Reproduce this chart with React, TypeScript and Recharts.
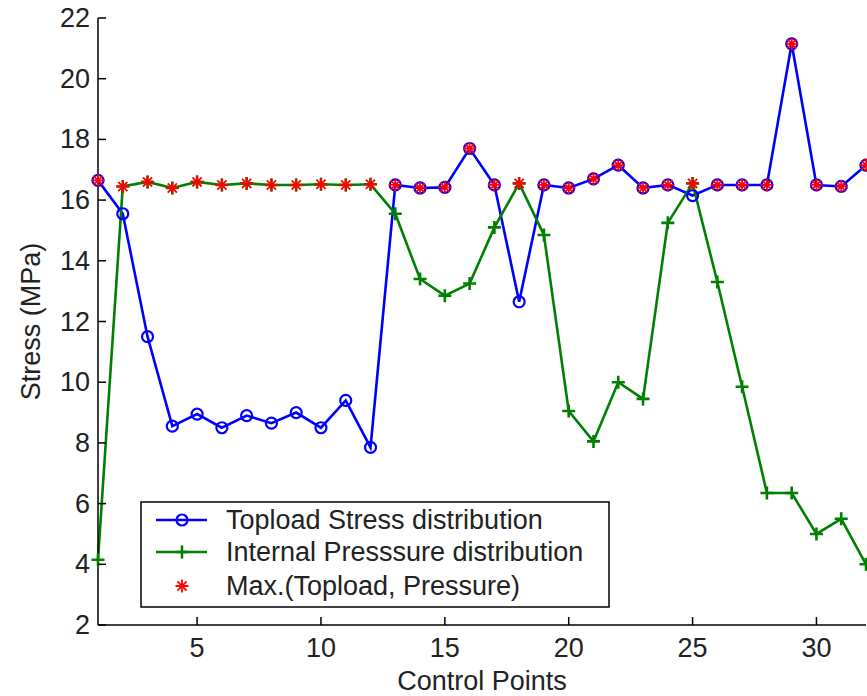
import React from 'react';
import { LineChart, Line, XAxis, YAxis } from 'recharts';

const controlPoints = [1, 2, 3, 4, 5, 6, 7, 8, 9, 10, 11, 12, 13, 14, 15, 16, 17, 18, 19, 20, 21, 22, 23, 24, 25, 26, 27, 28, 29, 30, 31, 32];
const toploadStress = [16.65, 15.55, 11.5, 8.55, 8.95, 8.5, 8.9, 8.65, 9.0, 8.5, 9.4, 7.85, 16.5, 16.4, 16.42, 17.7, 16.5, 12.65, 16.5, 16.4, 16.7, 17.15, 16.4, 16.5, 16.15, 16.5, 16.5, 16.5, 21.15, 16.5, 16.45, 17.15];
const internalPressure = [4.15, 16.45, 16.6, 16.4, 16.6, 16.5, 16.55, 16.5, 16.5, 16.52, 16.5, 16.52, 15.55, 13.4, 12.85, 13.25, 15.1, 16.55, 14.85, 9.05, 8.05, 10.0, 9.45, 15.25, 16.55, 13.3, 9.85, 6.35, 6.35, 5.0, 5.5, 4.0];
const maxStress = [16.65, 16.45, 16.6, 16.4, 16.6, 16.5, 16.55, 16.5, 16.5, 16.52, 16.5, 16.52, 16.5, 16.4, 16.42, 17.7, 16.5, 16.55, 16.5, 16.4, 16.7, 17.15, 16.4, 16.5, 16.55, 16.5, 16.5, 16.5, 21.15, 16.5, 16.45, 17.15];
const xTicks = [5, 10, 15, 20, 25, 30];
const yTicks = [2, 4, 6, 8, 10, 12, 14, 16, 18, 20, 22];
const seriesNames = ['Topload Stress distribution', 'Internal Presssure distribution', 'Max.(Topload, Pressure)'];

const data = controlPoints.map((x, i) => ({
  x,
  topload: toploadStress[i],
  pressure: internalPressure[i],
  max: maxStress[i],
}));

const W = 867;
const H = 696;
const PL = 98;
const PR = 866;
const PT = 18;
const PB = 625;
const FONT = '"Liberation Sans", Arial, sans-serif';
const TXT = '#222';
const FS = 27;
const BLUE = '#0000ff';
const GREEN = '#008000';
const RED = '#ff0000';

const CircleMark = ({ cx, cy }: any) => (
  <circle cx={cx} cy={cy} r={5.5} fill="none" stroke={BLUE} strokeWidth={2.2} />
);
const PlusMark = ({ cx, cy }: any) => (
  <path d={`M${cx - 6.5},${cy}h13M${cx},${cy - 6.5}v13`} stroke={GREEN} strokeWidth={2.6} fill="none" />
);
const StarMark = ({ cx, cy }: any) => (
  <path
    d={`M${cx - 6.5},${cy}h13M${cx},${cy - 6.5}v13M${cx - 4.6},${cy - 4.6}l9.2,9.2M${cx - 4.6},${cy + 4.6}l9.2,-9.2`}
    stroke={RED}
    strokeWidth={1.8}
    fill="none"
  />
);

const circleDot = (p: any) => <CircleMark key={`c${p.index}`} cx={p.cx} cy={p.cy} />;
const plusDot = (p: any) => <PlusMark key={`p${p.index}`} cx={p.cx} cy={p.cy} />;
const starDot = (p: any) => <StarMark key={`s${p.index}`} cx={p.cx} cy={p.cy} />;

const BottomTick = (props: any) => {
  const { x, payload } = props;
  return (
    <g>
      <line x1={x} y1={PB} x2={x} y2={PB - 8} stroke="#000" strokeWidth={1.5} />
      <text x={x} y={PB + 32} textAnchor="middle" fontSize={FS} fontFamily={FONT} fill={TXT}>
        {payload.value}
      </text>
    </g>
  );
};
const TopTick = (props: any) => {
  const { x } = props;
  return <line x1={x} y1={PT} x2={x} y2={PT + 8} stroke="#000" strokeWidth={1.5} />;
};
const LeftTick = (props: any) => {
  const { y, payload } = props;
  return (
    <g>
      <line x1={PL} y1={y} x2={PL + 8} y2={y} stroke="#000" strokeWidth={1.5} />
      <text x={PL - 8} y={y + 9} textAnchor="end" fontSize={FS} fontFamily={FONT} fill={TXT}>
        {payload.value}
      </text>
    </g>
  );
};
const RightTick = (props: any) => {
  const { y } = props;
  return <line x1={PR} y1={y} x2={PR - 8} y2={y} stroke="#000" strokeWidth={1.5} />;
};

const LegendBox = () => {
  const rows = [19, 51, 85];
  return (
    <svg
      width={470}
      height={107}
      style={{ position: 'absolute', left: 140, top: 501 }}
    >
      <rect x={1} y={1} width={468} height={105} fill="#fff" stroke="#000" strokeWidth={1.5} />
      <line x1={16} y1={rows[0]} x2={67} y2={rows[0]} stroke={BLUE} strokeWidth={2.6} />
      <CircleMark cx={42} cy={rows[0]} />
      <line x1={16} y1={rows[1]} x2={67} y2={rows[1]} stroke={GREEN} strokeWidth={2.6} />
      <PlusMark cx={42} cy={rows[1]} />
      <StarMark cx={42} cy={rows[2]} />
      {seriesNames.map((n, i) => (
        <text key={n} x={86} y={rows[i] + 9} fontSize={FS} fontFamily={FONT} fill={TXT}>
          {n}
        </text>
      ))}
    </svg>
  );
};

export default function App() {
  return (
    <div style={{ position: 'absolute', left: 0, top: 0, width: W, height: H, background: '#fff' }}>
      <LineChart
        width={W}
        height={H}
        data={data}
        margin={{ top: PT, right: W - PR, bottom: 0, left: 0 }}
      >
        <XAxis
          dataKey="x"
          type="number"
          domain={[1, 32]}
          ticks={xTicks}
          tick={<BottomTick />}
          tickLine={false}
          axisLine={{ stroke: '#000', strokeWidth: 1.5 }}
          height={H - PB}
          label={{ value: 'Control Points', position: 'insideBottom', offset: 6, style: { fontSize: FS, fontFamily: FONT, fill: TXT } }}
        />
        <XAxis
          xAxisId="t"
          dataKey="x"
          type="number"
          orientation="top"
          domain={[1, 32]}
          ticks={xTicks}
          tick={<TopTick />}
          tickLine={false}
          axisLine={{ stroke: '#000', strokeWidth: 1.5 }}
          height={0}
        />
        <YAxis
          type="number"
          domain={[2, 22]}
          ticks={yTicks}
          tick={<LeftTick />}
          tickLine={false}
          axisLine={{ stroke: '#000', strokeWidth: 1.5 }}
          width={PL}
          label={{ value: 'Stress (MPa)', angle: -90, position: 'insideLeft', offset: 30, style: { fontSize: FS, fontFamily: FONT, fill: TXT, textAnchor: 'middle' } }}
        />
        <YAxis
          yAxisId="r"
          type="number"
          orientation="right"
          domain={[2, 22]}
          ticks={yTicks}
          tick={<RightTick />}
          tickLine={false}
          axisLine={{ stroke: '#000', strokeWidth: 1.5 }}
          width={0}
        />
        <Line dataKey="topload" stroke={BLUE} strokeWidth={2.6} dot={circleDot} isAnimationActive={false} />
        <Line dataKey="pressure" stroke={GREEN} strokeWidth={2.6} dot={plusDot} isAnimationActive={false} />
        <Line dataKey="max" stroke="none" dot={starDot} isAnimationActive={false} />
      </LineChart>
      <LegendBox />
    </div>
  );
}
